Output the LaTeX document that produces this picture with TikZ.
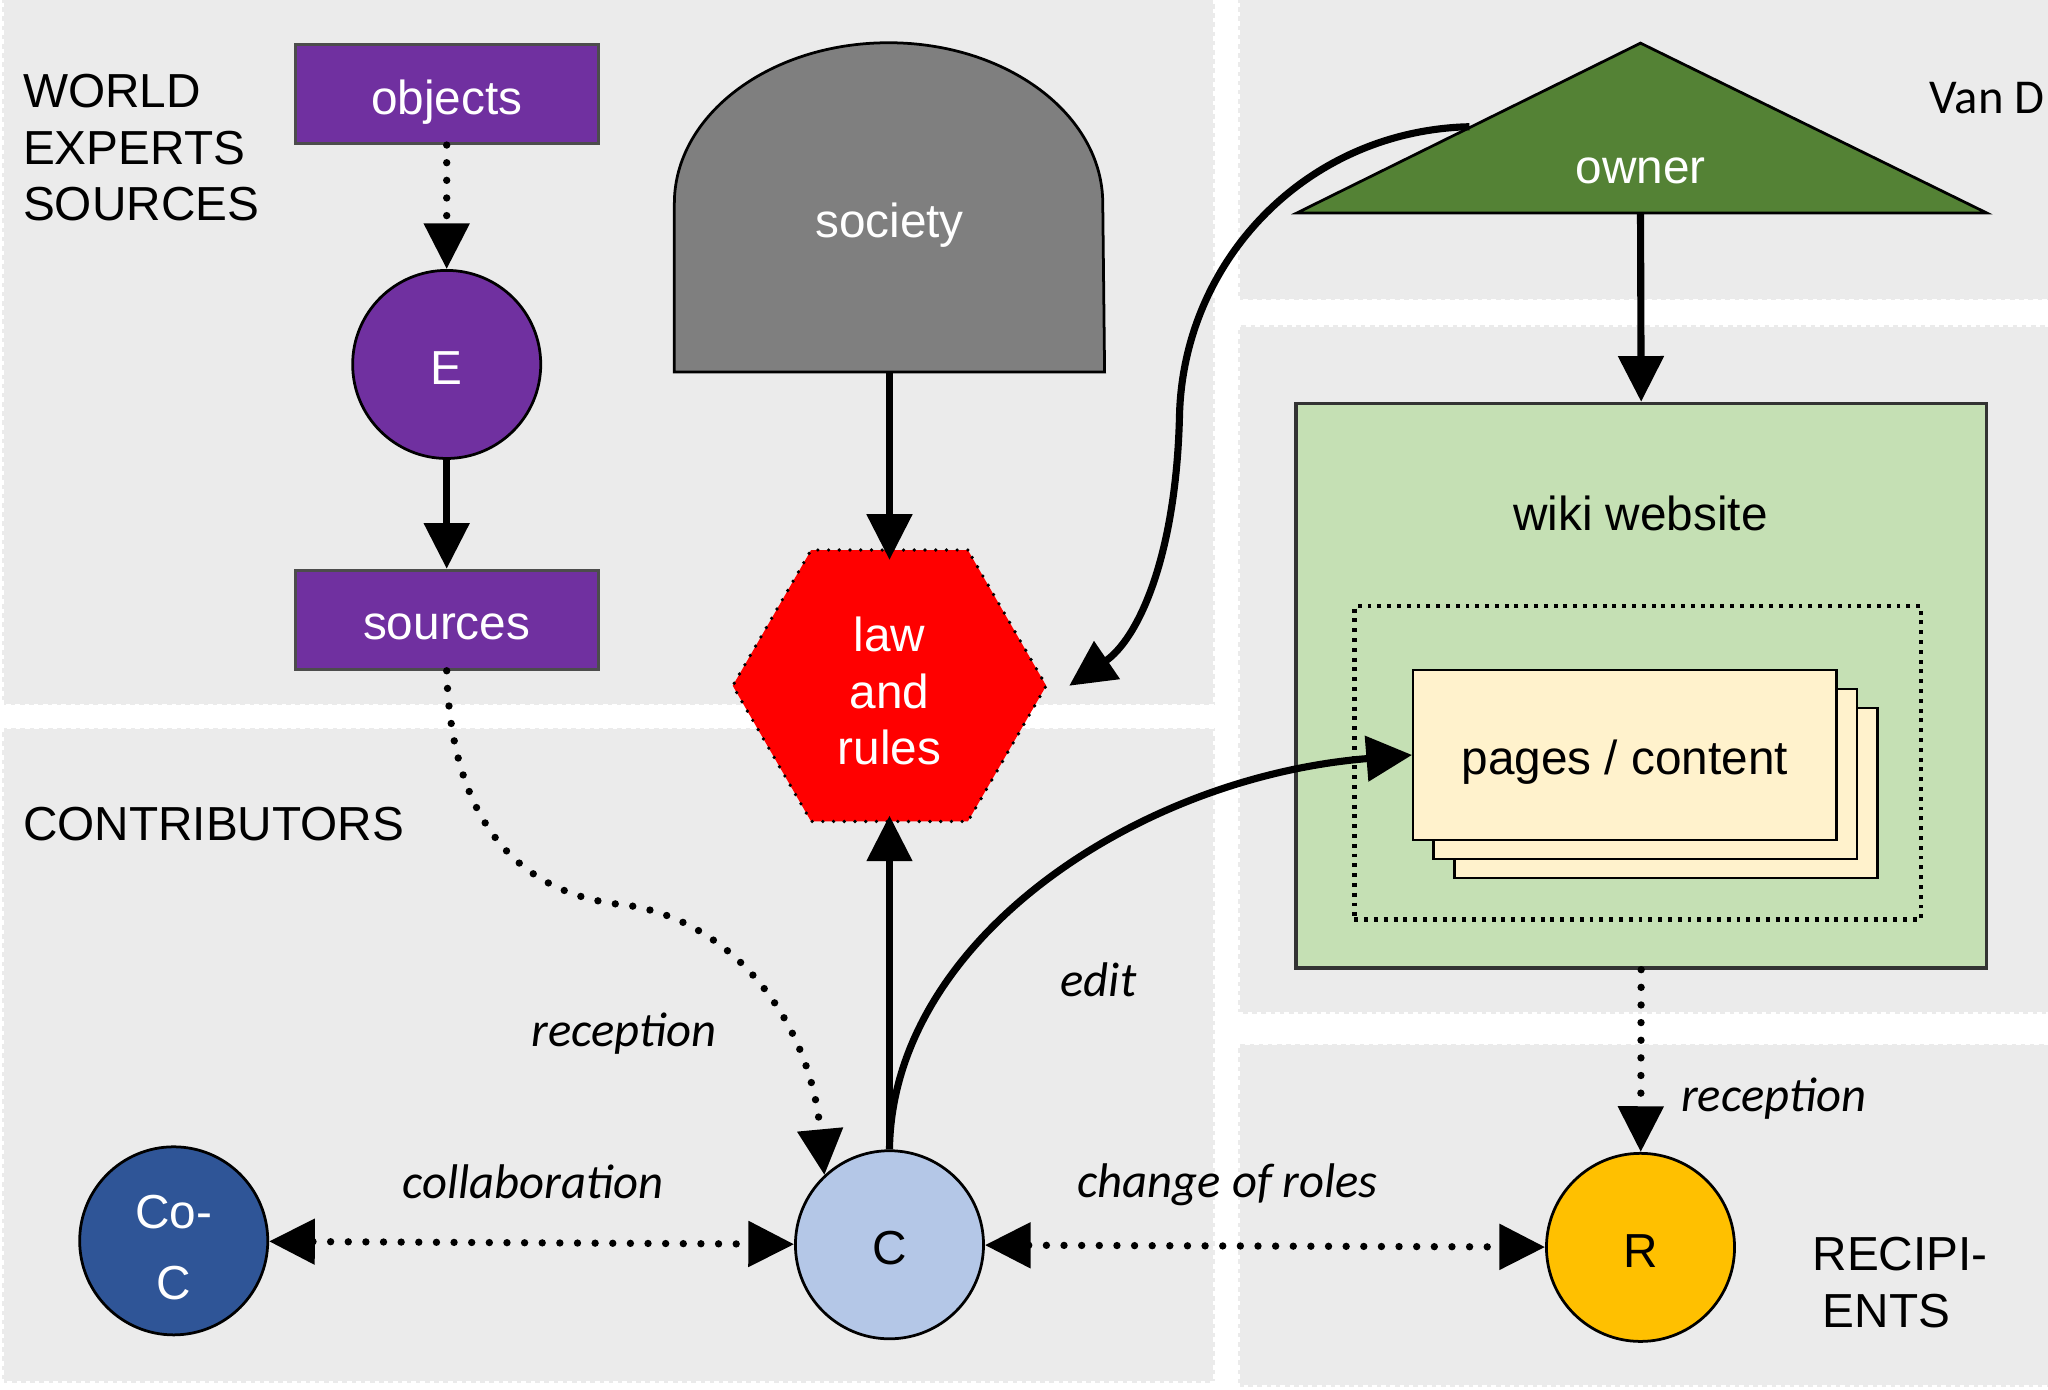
\documentclass[tikz,border=0pt]{standalone}
\usepackage{fontspec}
\setmainfont{Liberation Sans}
\newfontfamily\calibrifont{Carlito}
\usepackage{xcolor}
\definecolor{panelgrey}{RGB}{235,235,235}
\definecolor{wikipurple}{RGB}{112,48,160}
\definecolor{societygrey}{RGB}{127,127,127}
\definecolor{ownergreen}{RGB}{84,130,53}
\definecolor{wikigreen}{RGB}{197,224,180}
\definecolor{pageyellow}{RGB}{255,242,204}
\definecolor{cocblue}{RGB}{47,85,151}
\definecolor{cblue}{RGB}{180,199,231}
\definecolor{rgold}{RGB}{255,192,0}
\usetikzlibrary{shapes,arrows.meta,positioning}

\begin{document}
\begin{tikzpicture}[every node/.style={font=\fontsize{10.4}{12.4}\selectfont, inner sep=0pt},
    panel/.style={fill=panelgrey, draw=white, line width=0.8pt, dash pattern=on 1pt off 1pt},
    boxtext/.style={text height=10.4pt, text depth=1.7pt},
    purplebox/.style={rectangle, boxtext, draw=black!70, line width=0.6pt, fill=wikipurple, text=white, minimum width=2.32cm, minimum height=0.76cm},
    role/.style={circle, boxtext, draw=black, line width=0.6pt, minimum size=1.44cm},
    page/.style={rectangle, boxtext, draw=black, line width=0.5pt, fill=pageyellow, minimum width=3.24cm, minimum height=1.3cm},
    italabel/.style={font=\calibrifont\itshape\fontsize{10.6}{12.6}\selectfont},
    solidarrow/.style={-{Triangle[length=3.5mm,width=3.4mm]}, line width=1.55pt},
    dotarrow/.style={-{Triangle[length=3.5mm,width=3.4mm]}, line width=1.6pt, line cap=round, dash pattern=on 0pt off 1.35mm},
    twotips/.style={{Triangle[length=3.5mm,width=3.4mm]}-{Triangle[length=3.5mm,width=3.4mm]}}]
    \useasboundingbox (0,0) rectangle (15.68,-10.64);
    \clip (0,0) rectangle (15.68,-10.64);

    % Panels
    \fill[white] (0,0) rectangle (15.68,-10.64);
    \draw[panel] (0.015,0.05) rectangle (9.30,-5.40);
    \draw[panel] (0.015,-5.57) rectangle (9.30,-10.59);
    \draw[panel] (9.48,0.05) rectangle (15.75,-2.30);
    \draw[panel] (9.48,-2.49) rectangle (15.75,-7.76);
    \draw[panel] (9.48,-7.99) rectangle (15.75,-10.62);

    % World, experts, sources
    \node[purplebox] (objects) at (3.42,-0.72) {objects};
    \node[role, fill=wikipurple, text=white] (E) at (3.42,-2.79) {E};
    \node[purplebox] (sources) at (3.42,-4.745) {sources};

    % Society and law
    \node[minimum width=3.28cm, minimum height=2.52cm] (society) at (6.81,-1.58) {};
    \filldraw[fill=societygrey, draw=black, line width=0.6pt] (society.south west) -- ++(0,1.29)
        arc[start angle=180, end angle=0, x radius=1.64, y radius=1.23] -- (society.south east) -- cycle;
    \node[text=white] (societytext) at ([yshift=-1.4mm]society.center) {society};
    \node[regular polygon, regular polygon sides=6, minimum size=2.4cm, fill=red, draw=black, line width=0.8pt,
        dash pattern=on 0pt off 0.82mm, line cap=round] (law) at (6.81,-5.25) {};
    \node[text=white, align=center] (lawtext) at ([yshift=-0.4mm]law.center) {law\\and\\rules};

    % Owner and wiki
    \filldraw[fill=ownergreen, draw=black, line width=0.6pt] (12.56,-0.33) -- (15.21,-1.63) -- (9.93,-1.63) -- cycle;
    \node[text=white] (owner) at (12.56,-1.31) {owner};
    \coordinate (ownerbase) at (12.56,-1.63);
    \coordinate (ownerside) at (11.25,-0.97);
    \node[font=\calibrifont\fontsize{10.6}{12.6}\selectfont, anchor=east] (vand) at (15.66,-0.75) {Van D};
    \node[rectangle, draw=black!80, line width=0.8pt, fill=wikigreen, minimum width=5.29cm, minimum height=4.32cm] (wiki) at (12.565,-5.25) {};
    \node (wikilabel) at (12.56,-3.93) {wiki website};
    \node[rectangle, draw=black, line width=0.9pt, dash pattern=on 0.3mm off 0.45mm, minimum width=4.34cm, minimum height=2.4cm] (space) at (12.54,-5.84) {};
    \node[page] (page3) at (12.755,-6.07) {};
    \node[page] (page2) at (12.595,-5.925) {};
    \node[page] (pages) at (12.44,-5.78) {pages / content};

    % Roles
    \node[role, fill=cocblue] (CoC) at (1.33,-9.50) {};
    \node[text=white, align=center] (coctext) at ([yshift=-0.5mm]CoC.center) {Co-\\[3pt]C};
    \node[role, fill=cblue] (C) at (6.81,-9.53) {C};
    \node[role, fill=rgold] (R) at (12.56,-9.55) {R};

    % Arrows
    \draw[dotarrow] (objects) -- (E);
    \draw[solidarrow] (E) -- (sources);
    \draw[solidarrow] (society.south) -- ([yshift=-0.9mm]law.north);
    \draw[solidarrow] (C) -- ([yshift=0.6mm]law.south);
    \draw[solidarrow] (ownerbase) -- (wiki.north);
    \draw[solidarrow] (ownerside) .. controls (10.0,-1.0) and (9.05,-2.0) .. (9.03,-3.2)
        .. controls (9.0,-4.3) and (8.7,-4.9) .. ([xshift=1.6mm]law.east);
    \draw[solidarrow] (C.north) .. controls (6.83,-7.2) and (8.7,-5.95) .. (pages.west);
    \draw[dotarrow] (sources.south) .. controls (3.45,-6.2) and (3.9,-6.85) .. (4.8,-6.93)
        .. controls (5.6,-7.05) and (6.2,-7.8) .. (C.133);
    \draw[dotarrow] (wiki.south) -- (R);
    \draw[dotarrow, twotips] (CoC) -- (C);
    \draw[dotarrow, twotips] (C) -- (R);

    % Labels
    \node[anchor=west, align=left] (worldl) at (0.17,-1.13) {WORLD\\EXPERTS\\SOURCES};
    \node[anchor=west] (contribl) at (0.17,-6.31) {CONTRIBUTORS};
    \node[anchor=west, align=left] (recipl) at (13.87,-9.82) {RECIPI-\\\hspace{0.8mm}ENTS};
    \node[italabel] (recl) at (4.78,-7.91) {reception};
    \node[italabel] (editl) at (8.41,-7.50) {edit};
    \node[italabel] (collabl) at (4.08,-9.05) {collaboration};
    \node[italabel] (rolesl) at (9.40,-9.07) {change of roles};
    \node[italabel] (recr) at (13.58,-8.41) {reception};
\end{tikzpicture}
\end{document}
